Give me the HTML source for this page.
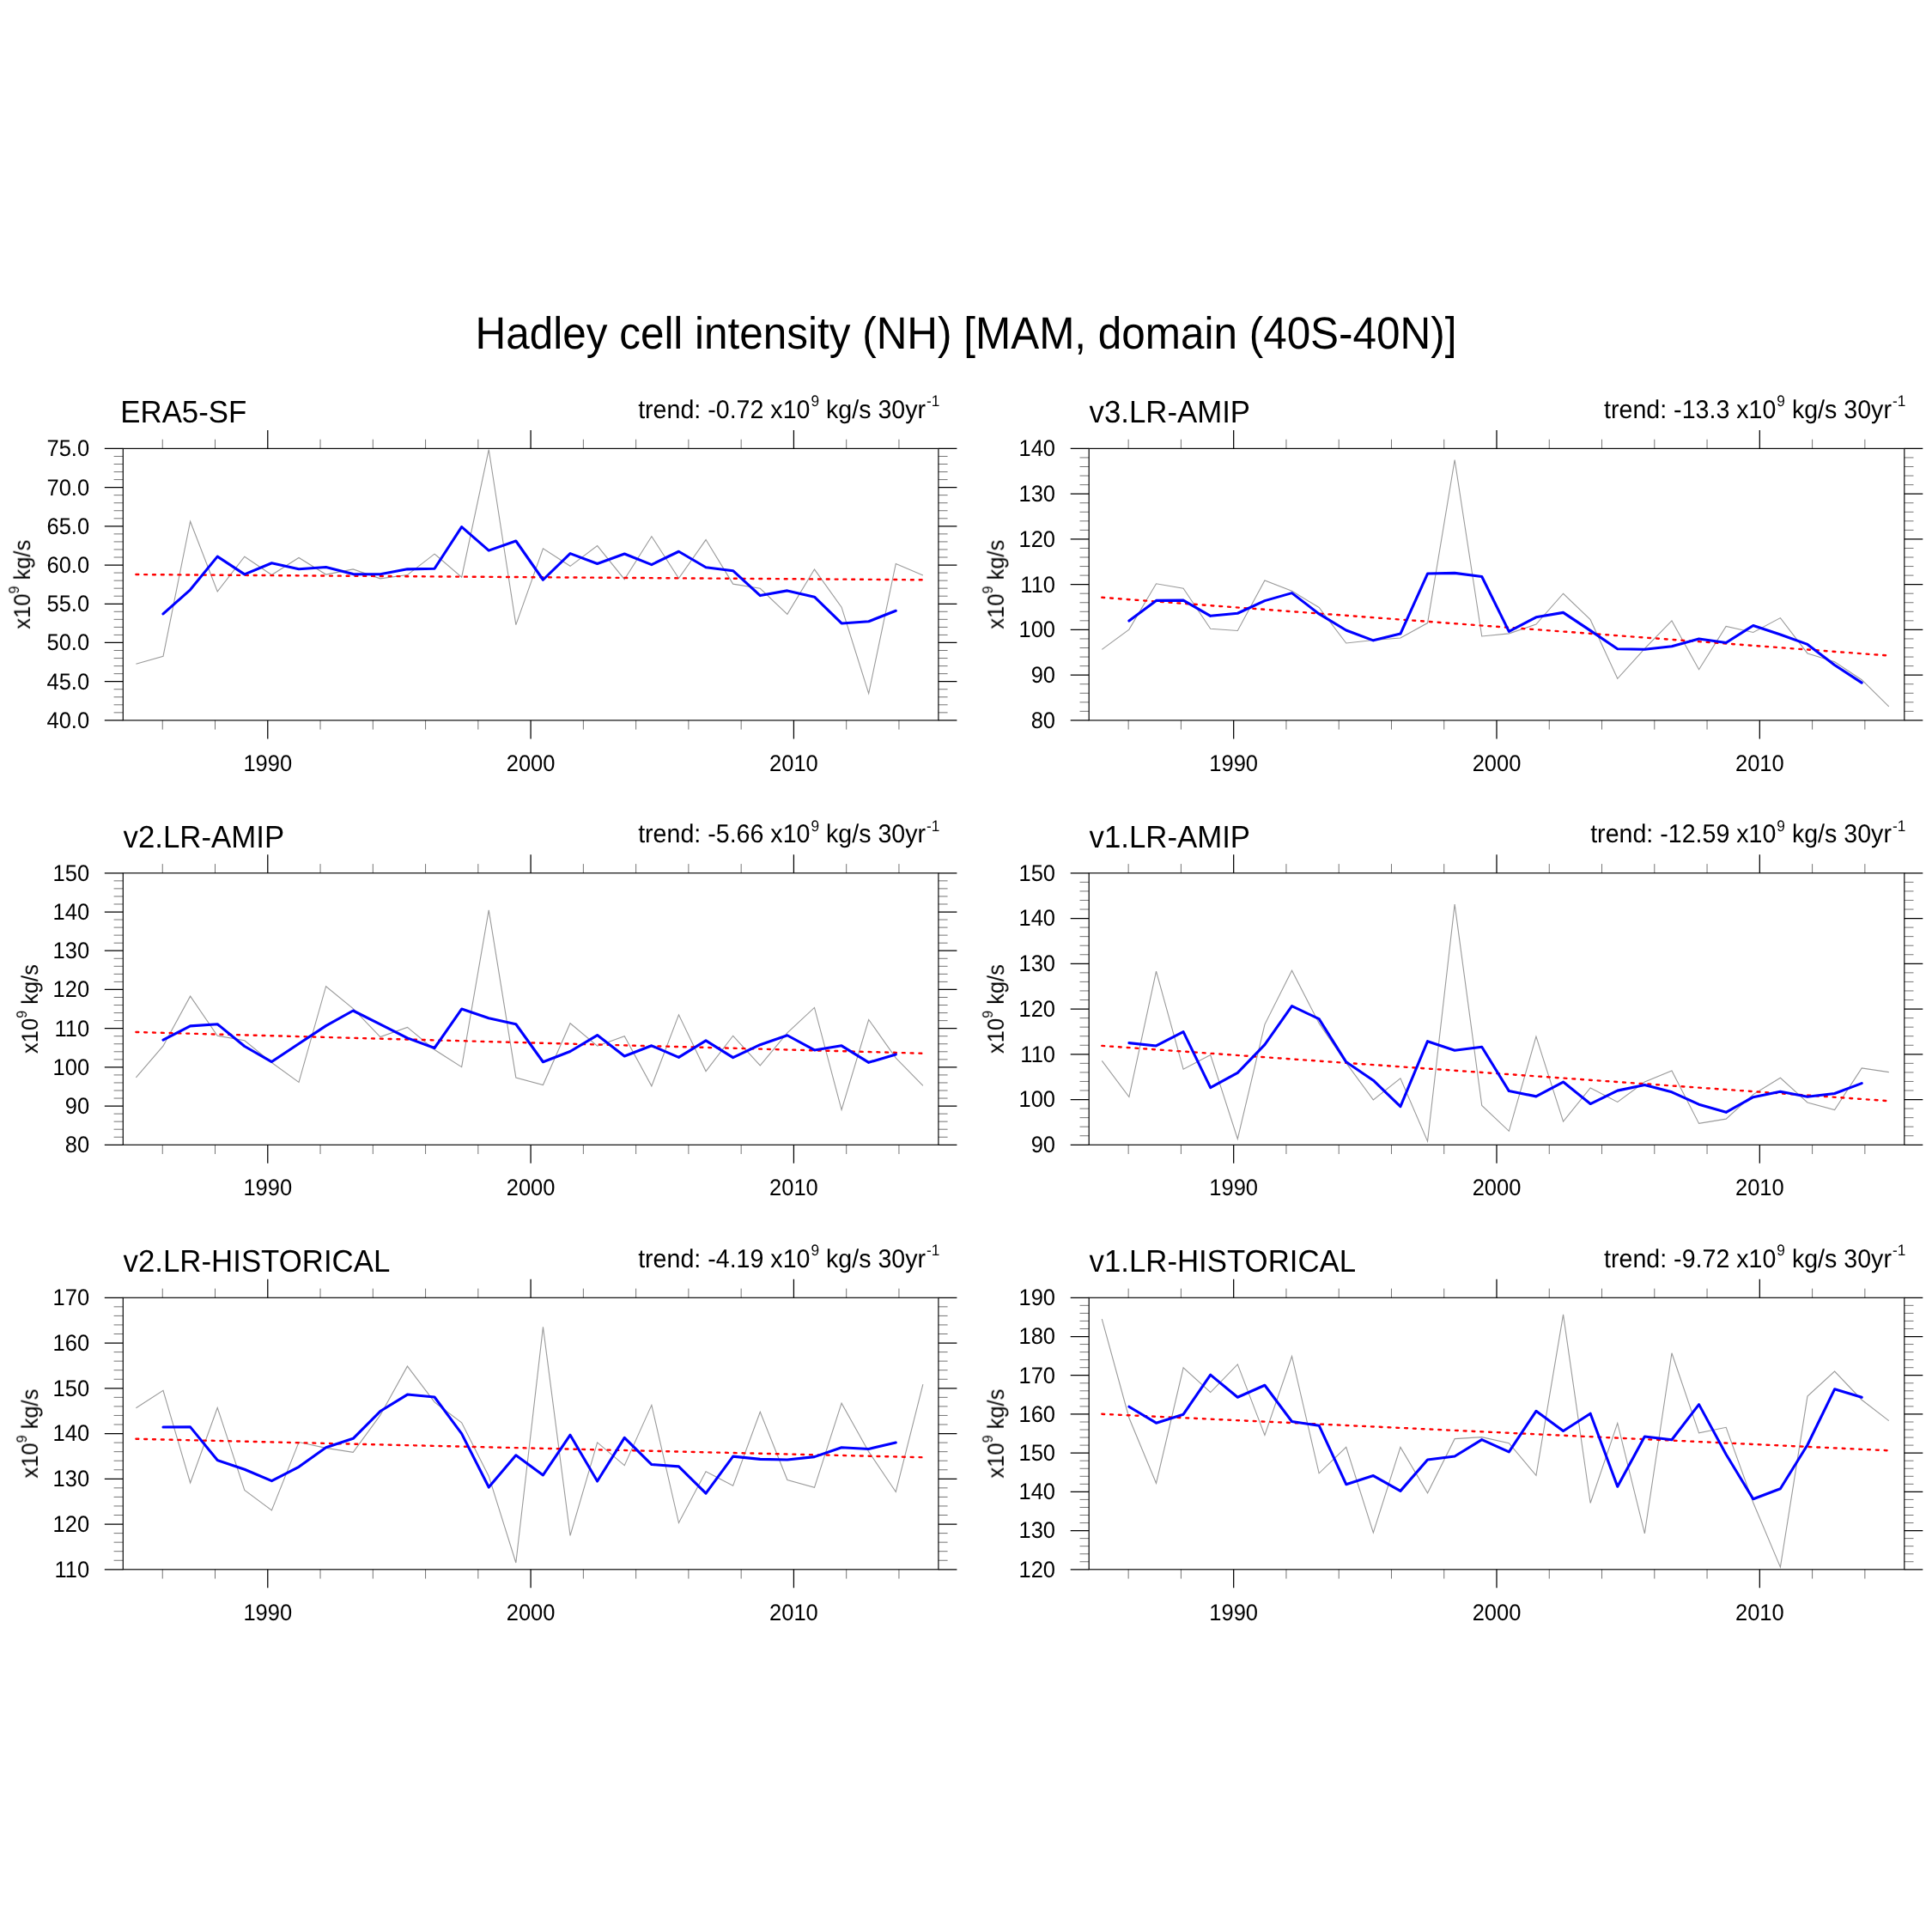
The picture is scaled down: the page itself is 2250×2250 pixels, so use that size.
<!DOCTYPE html><html><head><meta charset="utf-8"><title>Hadley cell intensity (NH)</title><style>html,body{margin:0;padding:0;background:#fff}svg{display:block}</style></head><body>
<svg width="2250" height="2250" viewBox="0 0 2250 2250" font-family="'Liberation Sans', Arial, Helvetica, sans-serif">
<rect width="2250" height="2250" fill="#fff"/>
<path d="M311.78 838.9V860.4M311.78 522.4V500.9M618.1 838.9V860.4M618.1 522.4V500.9M924.42 838.9V860.4M924.42 522.4V500.9M143.3 838.9H121.8M1092.9 838.9H1114.4M143.3 793.69H121.8M1092.9 793.69H1114.4M143.3 748.47H121.8M1092.9 748.47H1114.4M143.3 703.26H121.8M1092.9 703.26H1114.4M143.3 658.04H121.8M1092.9 658.04H1114.4M143.3 612.83H121.8M1092.9 612.83H1114.4M143.3 567.61H121.8M1092.9 567.61H1114.4M143.3 522.4H121.8M1092.9 522.4H1114.4" stroke="#000" stroke-width="1.25" fill="none"/>
<path d="M189.25 838.9V849.6M189.25 522.4V511.7M250.51 838.9V849.6M250.51 522.4V511.7M373.04 838.9V849.6M373.04 522.4V511.7M434.31 838.9V849.6M434.31 522.4V511.7M495.57 838.9V849.6M495.57 522.4V511.7M556.84 838.9V849.6M556.84 522.4V511.7M679.36 838.9V849.6M679.36 522.4V511.7M740.63 838.9V849.6M740.63 522.4V511.7M801.89 838.9V849.6M801.89 522.4V511.7M863.16 838.9V849.6M863.16 522.4V511.7M985.69 838.9V849.6M985.69 522.4V511.7M1046.95 838.9V849.6M1046.95 522.4V511.7M143.3 829.86H132.6M1092.9 829.86H1103.6M143.3 820.81H132.6M1092.9 820.81H1103.6M143.3 811.77H132.6M1092.9 811.77H1103.6M143.3 802.73H132.6M1092.9 802.73H1103.6M143.3 784.64H132.6M1092.9 784.64H1103.6M143.3 775.6H132.6M1092.9 775.6H1103.6M143.3 766.56H132.6M1092.9 766.56H1103.6M143.3 757.51H132.6M1092.9 757.51H1103.6M143.3 739.43H132.6M1092.9 739.43H1103.6M143.3 730.39H132.6M1092.9 730.39H1103.6M143.3 721.34H132.6M1092.9 721.34H1103.6M143.3 712.3H132.6M1092.9 712.3H1103.6M143.3 694.21H132.6M1092.9 694.21H1103.6M143.3 685.17H132.6M1092.9 685.17H1103.6M143.3 676.13H132.6M1092.9 676.13H1103.6M143.3 667.09H132.6M1092.9 667.09H1103.6M143.3 649H132.6M1092.9 649H1103.6M143.3 639.96H132.6M1092.9 639.96H1103.6M143.3 630.91H132.6M1092.9 630.91H1103.6M143.3 621.87H132.6M1092.9 621.87H1103.6M143.3 603.79H132.6M1092.9 603.79H1103.6M143.3 594.74H132.6M1092.9 594.74H1103.6M143.3 585.7H132.6M1092.9 585.7H1103.6M143.3 576.66H132.6M1092.9 576.66H1103.6M143.3 558.57H132.6M1092.9 558.57H1103.6M143.3 549.53H132.6M1092.9 549.53H1103.6M143.3 540.49H132.6M1092.9 540.49H1103.6M143.3 531.44H132.6M1092.9 531.44H1103.6" stroke="#000" stroke-width="0.55" fill="none"/>
<polyline points="158.4,773.24 190,764.36 221.61,607.23 253.21,688.87 284.81,648.22 316.42,669.57 348.02,649.42 379.62,669.06 411.22,662.91 442.83,673.84 474.43,669.57 506.03,645.15 537.64,672.13 569.24,523.54 600.84,727.64 632.45,638.83 664.05,659.32 695.65,635.58 727.25,674.69 758.86,624.65 790.46,673.5 822.06,628.58 853.67,680.16 885.27,685.28 916.87,715.34 948.48,663.08 980.08,707.14 1011.68,807.57 1043.28,656.42 1074.89,669.91" stroke="#9a9a9a" stroke-width="1.1" fill="none" stroke-linejoin="miter"/>
<line x1="158.4" y1="669.05" x2="1074.89" y2="675.27" stroke="#f00" stroke-width="2.4" stroke-dasharray="2.9 6.91" stroke-linecap="round" fill="none"/>
<polyline points="190,714.94 221.61,686.82 253.21,648.11 284.81,668.89 316.42,655.73 348.02,662.68 379.62,660.46 411.22,668.6 442.83,668.77 474.43,662.85 506.03,662.28 537.64,613.61 569.24,641.1 600.84,630 632.45,675.26 664.05,644.58 695.65,656.53 727.25,644.97 758.86,657.61 790.46,642.24 822.06,660.74 853.67,664.67 885.27,693.59 916.87,687.9 948.48,695.19 980.08,725.93 1011.68,723.71 1043.28,711.3" stroke="#00f" stroke-width="3.1" fill="none" stroke-linejoin="round" stroke-linecap="round"/>
<rect x="143.3" y="522.4" width="949.6" height="316.5" stroke="#000" stroke-width="1.15" fill="none"/>
<path d="M1436.68 838.9V860.4M1436.68 522.4V500.9M1743 838.9V860.4M1743 522.4V500.9M2049.32 838.9V860.4M2049.32 522.4V500.9M1268.2 838.9H1246.7M2217.8 838.9H2239.3M1268.2 786.15H1246.7M2217.8 786.15H2239.3M1268.2 733.4H1246.7M2217.8 733.4H2239.3M1268.2 680.65H1246.7M2217.8 680.65H2239.3M1268.2 627.9H1246.7M2217.8 627.9H2239.3M1268.2 575.15H1246.7M2217.8 575.15H2239.3M1268.2 522.4H1246.7M2217.8 522.4H2239.3" stroke="#000" stroke-width="1.25" fill="none"/>
<path d="M1314.15 838.9V849.6M1314.15 522.4V511.7M1375.41 838.9V849.6M1375.41 522.4V511.7M1497.94 838.9V849.6M1497.94 522.4V511.7M1559.21 838.9V849.6M1559.21 522.4V511.7M1620.47 838.9V849.6M1620.47 522.4V511.7M1681.74 838.9V849.6M1681.74 522.4V511.7M1804.26 838.9V849.6M1804.26 522.4V511.7M1865.53 838.9V849.6M1865.53 522.4V511.7M1926.79 838.9V849.6M1926.79 522.4V511.7M1988.06 838.9V849.6M1988.06 522.4V511.7M2110.59 838.9V849.6M2110.59 522.4V511.7M2171.85 838.9V849.6M2171.85 522.4V511.7M1268.2 828.35H1257.5M2217.8 828.35H2228.5M1268.2 817.8H1257.5M2217.8 817.8H2228.5M1268.2 807.25H1257.5M2217.8 807.25H2228.5M1268.2 796.7H1257.5M2217.8 796.7H2228.5M1268.2 775.6H1257.5M2217.8 775.6H2228.5M1268.2 765.05H1257.5M2217.8 765.05H2228.5M1268.2 754.5H1257.5M2217.8 754.5H2228.5M1268.2 743.95H1257.5M2217.8 743.95H2228.5M1268.2 722.85H1257.5M2217.8 722.85H2228.5M1268.2 712.3H1257.5M2217.8 712.3H2228.5M1268.2 701.75H1257.5M2217.8 701.75H2228.5M1268.2 691.2H1257.5M2217.8 691.2H2228.5M1268.2 670.1H1257.5M2217.8 670.1H2228.5M1268.2 659.55H1257.5M2217.8 659.55H2228.5M1268.2 649H1257.5M2217.8 649H2228.5M1268.2 638.45H1257.5M2217.8 638.45H2228.5M1268.2 617.35H1257.5M2217.8 617.35H2228.5M1268.2 606.8H1257.5M2217.8 606.8H2228.5M1268.2 596.25H1257.5M2217.8 596.25H2228.5M1268.2 585.7H1257.5M2217.8 585.7H2228.5M1268.2 564.6H1257.5M2217.8 564.6H2228.5M1268.2 554.05H1257.5M2217.8 554.05H2228.5M1268.2 543.5H1257.5M2217.8 543.5H2228.5M1268.2 532.95H1257.5M2217.8 532.95H2228.5" stroke="#000" stroke-width="0.55" fill="none"/>
<polyline points="1283.3,756.33 1314.9,733.1 1346.51,679.82 1378.11,685.28 1409.71,732.25 1441.32,734.47 1472.92,676.06 1504.52,688.36 1536.12,707.49 1567.73,748.99 1599.33,745.57 1630.93,743.01 1662.54,725.59 1694.14,535.5 1725.74,740.96 1757.35,737.89 1788.95,727.13 1820.55,691.26 1852.15,721.66 1883.76,790.32 1915.36,755.48 1946.96,722.86 1978.57,779.73 2010.17,729.35 2041.77,736.52 2073.38,719.61 2104.98,760.94 2136.58,770.68 2168.18,791.69 2199.79,822.94" stroke="#9a9a9a" stroke-width="1.1" fill="none" stroke-linejoin="miter"/>
<line x1="1283.3" y1="695.82" x2="2199.79" y2="763.56" stroke="#f00" stroke-width="2.4" stroke-dasharray="2.9 6.91" stroke-linecap="round" fill="none"/>
<polyline points="1314.9,723.08 1346.51,699.4 1378.11,699.12 1409.71,717.33 1441.32,714.26 1472.92,699.63 1504.52,690.63 1536.12,714.94 1567.73,734.02 1599.33,745.86 1630.93,738.06 1662.54,668.03 1694.14,667.35 1725.74,671.45 1757.35,735.32 1788.95,718.76 1820.55,713.35 1852.15,734.41 1883.76,755.82 1915.36,756.22 1946.96,752.69 1978.57,743.98 2010.17,748.53 2041.77,728.49 2073.38,739.03 2104.98,750.41 2136.58,774.44 2168.18,795.1" stroke="#00f" stroke-width="3.1" fill="none" stroke-linejoin="round" stroke-linecap="round"/>
<rect x="1268.2" y="522.4" width="949.6" height="316.5" stroke="#000" stroke-width="1.15" fill="none"/>
<path d="M311.78 1333.3V1354.8M311.78 1016.8V995.3M618.1 1333.3V1354.8M618.1 1016.8V995.3M924.42 1333.3V1354.8M924.42 1016.8V995.3M143.3 1333.3H121.8M1092.9 1333.3H1114.4M143.3 1288.09H121.8M1092.9 1288.09H1114.4M143.3 1242.87H121.8M1092.9 1242.87H1114.4M143.3 1197.66H121.8M1092.9 1197.66H1114.4M143.3 1152.44H121.8M1092.9 1152.44H1114.4M143.3 1107.23H121.8M1092.9 1107.23H1114.4M143.3 1062.01H121.8M1092.9 1062.01H1114.4M143.3 1016.8H121.8M1092.9 1016.8H1114.4" stroke="#000" stroke-width="1.25" fill="none"/>
<path d="M189.25 1333.3V1344M189.25 1016.8V1006.1M250.51 1333.3V1344M250.51 1016.8V1006.1M373.04 1333.3V1344M373.04 1016.8V1006.1M434.31 1333.3V1344M434.31 1016.8V1006.1M495.57 1333.3V1344M495.57 1016.8V1006.1M556.84 1333.3V1344M556.84 1016.8V1006.1M679.36 1333.3V1344M679.36 1016.8V1006.1M740.63 1333.3V1344M740.63 1016.8V1006.1M801.89 1333.3V1344M801.89 1016.8V1006.1M863.16 1333.3V1344M863.16 1016.8V1006.1M985.69 1333.3V1344M985.69 1016.8V1006.1M1046.95 1333.3V1344M1046.95 1016.8V1006.1M143.3 1324.26H132.6M1092.9 1324.26H1103.6M143.3 1315.21H132.6M1092.9 1315.21H1103.6M143.3 1306.17H132.6M1092.9 1306.17H1103.6M143.3 1297.13H132.6M1092.9 1297.13H1103.6M143.3 1279.04H132.6M1092.9 1279.04H1103.6M143.3 1270H132.6M1092.9 1270H1103.6M143.3 1260.96H132.6M1092.9 1260.96H1103.6M143.3 1251.91H132.6M1092.9 1251.91H1103.6M143.3 1233.83H132.6M1092.9 1233.83H1103.6M143.3 1224.79H132.6M1092.9 1224.79H1103.6M143.3 1215.74H132.6M1092.9 1215.74H1103.6M143.3 1206.7H132.6M1092.9 1206.7H1103.6M143.3 1188.61H132.6M1092.9 1188.61H1103.6M143.3 1179.57H132.6M1092.9 1179.57H1103.6M143.3 1170.53H132.6M1092.9 1170.53H1103.6M143.3 1161.49H132.6M1092.9 1161.49H1103.6M143.3 1143.4H132.6M1092.9 1143.4H1103.6M143.3 1134.36H132.6M1092.9 1134.36H1103.6M143.3 1125.31H132.6M1092.9 1125.31H1103.6M143.3 1116.27H132.6M1092.9 1116.27H1103.6M143.3 1098.19H132.6M1092.9 1098.19H1103.6M143.3 1089.14H132.6M1092.9 1089.14H1103.6M143.3 1080.1H132.6M1092.9 1080.1H1103.6M143.3 1071.06H132.6M1092.9 1071.06H1103.6M143.3 1052.97H132.6M1092.9 1052.97H1103.6M143.3 1043.93H132.6M1092.9 1043.93H1103.6M143.3 1034.89H132.6M1092.9 1034.89H1103.6M143.3 1025.84H132.6M1092.9 1025.84H1103.6" stroke="#000" stroke-width="0.55" fill="none"/>
<polyline points="158.4,1254.94 190,1218.22 221.61,1160.15 253.21,1206.27 284.81,1211.73 316.42,1237.52 348.02,1260.41 379.62,1148.71 411.22,1174.67 442.83,1207.63 474.43,1196.36 506.03,1222.49 537.64,1242.65 569.24,1059.9 600.84,1254.94 632.45,1263.48 664.05,1191.75 695.65,1218.22 727.25,1206.78 758.86,1264.85 790.46,1181.84 822.06,1247.6 853.67,1206.27 885.27,1240.94 916.87,1202.85 948.48,1173.47 980.08,1292.52 1011.68,1187.48 1043.28,1232.06 1074.89,1264.34" stroke="#9a9a9a" stroke-width="1.1" fill="none" stroke-linejoin="miter"/>
<line x1="158.4" y1="1201.99" x2="1074.89" y2="1226.74" stroke="#f00" stroke-width="2.4" stroke-dasharray="2.9 6.91" stroke-linecap="round" fill="none"/>
<polyline points="190,1211.11 221.61,1194.88 253.21,1192.72 284.81,1218.51 316.42,1236.55 348.02,1215.55 379.62,1194.6 411.22,1177 442.83,1192.89 474.43,1208.83 506.03,1220.5 537.64,1175.01 569.24,1185.83 600.84,1192.77 632.45,1236.73 664.05,1224.49 695.65,1205.58 727.25,1229.95 758.86,1217.82 790.46,1231.43 822.06,1211.9 853.67,1231.6 885.27,1216.69 916.87,1205.75 948.48,1222.95 980.08,1217.82 1011.68,1237.35 1043.28,1227.96" stroke="#00f" stroke-width="3.1" fill="none" stroke-linejoin="round" stroke-linecap="round"/>
<rect x="143.3" y="1016.8" width="949.6" height="316.5" stroke="#000" stroke-width="1.15" fill="none"/>
<path d="M1436.68 1333.3V1354.8M1436.68 1016.8V995.3M1743 1333.3V1354.8M1743 1016.8V995.3M2049.32 1333.3V1354.8M2049.32 1016.8V995.3M1268.2 1333.3H1246.7M2217.8 1333.3H2239.3M1268.2 1280.55H1246.7M2217.8 1280.55H2239.3M1268.2 1227.8H1246.7M2217.8 1227.8H2239.3M1268.2 1175.05H1246.7M2217.8 1175.05H2239.3M1268.2 1122.3H1246.7M2217.8 1122.3H2239.3M1268.2 1069.55H1246.7M2217.8 1069.55H2239.3M1268.2 1016.8H1246.7M2217.8 1016.8H2239.3" stroke="#000" stroke-width="1.25" fill="none"/>
<path d="M1314.15 1333.3V1344M1314.15 1016.8V1006.1M1375.41 1333.3V1344M1375.41 1016.8V1006.1M1497.94 1333.3V1344M1497.94 1016.8V1006.1M1559.21 1333.3V1344M1559.21 1016.8V1006.1M1620.47 1333.3V1344M1620.47 1016.8V1006.1M1681.74 1333.3V1344M1681.74 1016.8V1006.1M1804.26 1333.3V1344M1804.26 1016.8V1006.1M1865.53 1333.3V1344M1865.53 1016.8V1006.1M1926.79 1333.3V1344M1926.79 1016.8V1006.1M1988.06 1333.3V1344M1988.06 1016.8V1006.1M2110.59 1333.3V1344M2110.59 1016.8V1006.1M2171.85 1333.3V1344M2171.85 1016.8V1006.1M1268.2 1322.75H1257.5M2217.8 1322.75H2228.5M1268.2 1312.2H1257.5M2217.8 1312.2H2228.5M1268.2 1301.65H1257.5M2217.8 1301.65H2228.5M1268.2 1291.1H1257.5M2217.8 1291.1H2228.5M1268.2 1270H1257.5M2217.8 1270H2228.5M1268.2 1259.45H1257.5M2217.8 1259.45H2228.5M1268.2 1248.9H1257.5M2217.8 1248.9H2228.5M1268.2 1238.35H1257.5M2217.8 1238.35H2228.5M1268.2 1217.25H1257.5M2217.8 1217.25H2228.5M1268.2 1206.7H1257.5M2217.8 1206.7H2228.5M1268.2 1196.15H1257.5M2217.8 1196.15H2228.5M1268.2 1185.6H1257.5M2217.8 1185.6H2228.5M1268.2 1164.5H1257.5M2217.8 1164.5H2228.5M1268.2 1153.95H1257.5M2217.8 1153.95H2228.5M1268.2 1143.4H1257.5M2217.8 1143.4H2228.5M1268.2 1132.85H1257.5M2217.8 1132.85H2228.5M1268.2 1111.75H1257.5M2217.8 1111.75H2228.5M1268.2 1101.2H1257.5M2217.8 1101.2H2228.5M1268.2 1090.65H1257.5M2217.8 1090.65H2228.5M1268.2 1080.1H1257.5M2217.8 1080.1H2228.5M1268.2 1059H1257.5M2217.8 1059H2228.5M1268.2 1048.45H1257.5M2217.8 1048.45H2228.5M1268.2 1037.9H1257.5M2217.8 1037.9H2228.5M1268.2 1027.35H1257.5M2217.8 1027.35H2228.5" stroke="#000" stroke-width="0.55" fill="none"/>
<polyline points="1283.3,1235.3 1314.9,1277.49 1346.51,1131.12 1378.11,1245.21 1409.71,1228.47 1441.32,1326.34 1472.92,1193.12 1504.52,1130.26 1536.12,1191.75 1567.73,1237.86 1599.33,1280.9 1630.93,1255.8 1662.54,1329.24 1694.14,1053.06 1725.74,1287.39 1757.35,1317.28 1788.95,1207.12 1820.55,1306.18 1852.15,1266.9 1883.76,1283.47 1915.36,1260.07 1946.96,1246.92 1978.57,1308.4 2010.17,1303.11 2041.77,1274.58 2073.38,1255.29 2104.98,1283.98 2136.58,1292.52 2168.18,1243.84 2199.79,1248.62" stroke="#9a9a9a" stroke-width="1.1" fill="none" stroke-linejoin="miter"/>
<line x1="1283.3" y1="1217.91" x2="2199.79" y2="1282.2" stroke="#f00" stroke-width="2.4" stroke-dasharray="2.9 6.91" stroke-linecap="round" fill="none"/>
<polyline points="1314.9,1214.64 1346.51,1217.94 1378.11,1201.6 1409.71,1266.67 1441.32,1249.31 1472.92,1216.57 1504.52,1171.71 1536.12,1186.63 1567.73,1236.84 1599.33,1258.19 1630.93,1288.65 1662.54,1212.7 1694.14,1223.23 1725.74,1219.25 1757.35,1270.6 1788.95,1276.86 1820.55,1260.07 1852.15,1285.52 1883.76,1270.14 1915.36,1263.48 1946.96,1271.8 1978.57,1286.14 2010.17,1295.36 2041.77,1277.66 2073.38,1271.28 2104.98,1277.26 2136.58,1273.45 2168.18,1261.66" stroke="#00f" stroke-width="3.1" fill="none" stroke-linejoin="round" stroke-linecap="round"/>
<rect x="1268.2" y="1016.8" width="949.6" height="316.5" stroke="#000" stroke-width="1.15" fill="none"/>
<path d="M311.78 1827.8V1849.3M311.78 1511.3V1489.8M618.1 1827.8V1849.3M618.1 1511.3V1489.8M924.42 1827.8V1849.3M924.42 1511.3V1489.8M143.3 1827.8H121.8M1092.9 1827.8H1114.4M143.3 1775.05H121.8M1092.9 1775.05H1114.4M143.3 1722.3H121.8M1092.9 1722.3H1114.4M143.3 1669.55H121.8M1092.9 1669.55H1114.4M143.3 1616.8H121.8M1092.9 1616.8H1114.4M143.3 1564.05H121.8M1092.9 1564.05H1114.4M143.3 1511.3H121.8M1092.9 1511.3H1114.4" stroke="#000" stroke-width="1.25" fill="none"/>
<path d="M189.25 1827.8V1838.5M189.25 1511.3V1500.6M250.51 1827.8V1838.5M250.51 1511.3V1500.6M373.04 1827.8V1838.5M373.04 1511.3V1500.6M434.31 1827.8V1838.5M434.31 1511.3V1500.6M495.57 1827.8V1838.5M495.57 1511.3V1500.6M556.84 1827.8V1838.5M556.84 1511.3V1500.6M679.36 1827.8V1838.5M679.36 1511.3V1500.6M740.63 1827.8V1838.5M740.63 1511.3V1500.6M801.89 1827.8V1838.5M801.89 1511.3V1500.6M863.16 1827.8V1838.5M863.16 1511.3V1500.6M985.69 1827.8V1838.5M985.69 1511.3V1500.6M1046.95 1827.8V1838.5M1046.95 1511.3V1500.6M143.3 1817.25H132.6M1092.9 1817.25H1103.6M143.3 1806.7H132.6M1092.9 1806.7H1103.6M143.3 1796.15H132.6M1092.9 1796.15H1103.6M143.3 1785.6H132.6M1092.9 1785.6H1103.6M143.3 1764.5H132.6M1092.9 1764.5H1103.6M143.3 1753.95H132.6M1092.9 1753.95H1103.6M143.3 1743.4H132.6M1092.9 1743.4H1103.6M143.3 1732.85H132.6M1092.9 1732.85H1103.6M143.3 1711.75H132.6M1092.9 1711.75H1103.6M143.3 1701.2H132.6M1092.9 1701.2H1103.6M143.3 1690.65H132.6M1092.9 1690.65H1103.6M143.3 1680.1H132.6M1092.9 1680.1H1103.6M143.3 1659H132.6M1092.9 1659H1103.6M143.3 1648.45H132.6M1092.9 1648.45H1103.6M143.3 1637.9H132.6M1092.9 1637.9H1103.6M143.3 1627.35H132.6M1092.9 1627.35H1103.6M143.3 1606.25H132.6M1092.9 1606.25H1103.6M143.3 1595.7H132.6M1092.9 1595.7H1103.6M143.3 1585.15H132.6M1092.9 1585.15H1103.6M143.3 1574.6H132.6M1092.9 1574.6H1103.6M143.3 1553.5H132.6M1092.9 1553.5H1103.6M143.3 1542.95H132.6M1092.9 1542.95H1103.6M143.3 1532.4H132.6M1092.9 1532.4H1103.6M143.3 1521.85H132.6M1092.9 1521.85H1103.6" stroke="#000" stroke-width="0.55" fill="none"/>
<polyline points="158.4,1639.78 190,1619.29 221.61,1726.89 253.21,1639.44 284.81,1735.43 316.42,1759 348.02,1679.58 379.62,1686.41 411.22,1691.36 442.83,1648.15 474.43,1591.11 506.03,1632.95 537.64,1656.86 569.24,1719.2 600.84,1819.97 632.45,1545.33 664.05,1788.37 695.65,1679.92 727.25,1706.73 758.86,1636.37 790.46,1773.51 822.06,1713.74 853.67,1730.3 885.27,1644.39 916.87,1723.47 948.48,1732.35 980.08,1634.15 1011.68,1690.68 1043.28,1737.48 1074.89,1612.11" stroke="#9a9a9a" stroke-width="1.1" fill="none" stroke-linejoin="miter"/>
<line x1="158.4" y1="1675.75" x2="1074.89" y2="1697.2" stroke="#f00" stroke-width="2.4" stroke-dasharray="2.9 6.91" stroke-linecap="round" fill="none"/>
<polyline points="190,1661.98 221.61,1661.87 253.21,1700.58 284.81,1711.29 316.42,1724.67 348.02,1708.33 379.62,1685.78 411.22,1675.31 442.83,1643.54 474.43,1624.07 506.03,1626.97 537.64,1669.67 569.24,1732.01 600.84,1694.83 632.45,1717.89 664.05,1671.21 695.65,1725.01 727.25,1674.34 758.86,1705.54 790.46,1707.87 822.06,1739.18 853.67,1696.14 885.27,1699.39 916.87,1700.07 948.48,1696.66 980.08,1685.73 1011.68,1687.43 1043.28,1680.09" stroke="#00f" stroke-width="3.1" fill="none" stroke-linejoin="round" stroke-linecap="round"/>
<rect x="143.3" y="1511.3" width="949.6" height="316.5" stroke="#000" stroke-width="1.15" fill="none"/>
<path d="M1436.68 1827.8V1849.3M1436.68 1511.3V1489.8M1743 1827.8V1849.3M1743 1511.3V1489.8M2049.32 1827.8V1849.3M2049.32 1511.3V1489.8M1268.2 1827.8H1246.7M2217.8 1827.8H2239.3M1268.2 1782.59H1246.7M2217.8 1782.59H2239.3M1268.2 1737.37H1246.7M2217.8 1737.37H2239.3M1268.2 1692.16H1246.7M2217.8 1692.16H2239.3M1268.2 1646.94H1246.7M2217.8 1646.94H2239.3M1268.2 1601.73H1246.7M2217.8 1601.73H2239.3M1268.2 1556.51H1246.7M2217.8 1556.51H2239.3M1268.2 1511.3H1246.7M2217.8 1511.3H2239.3" stroke="#000" stroke-width="1.25" fill="none"/>
<path d="M1314.15 1827.8V1838.5M1314.15 1511.3V1500.6M1375.41 1827.8V1838.5M1375.41 1511.3V1500.6M1497.94 1827.8V1838.5M1497.94 1511.3V1500.6M1559.21 1827.8V1838.5M1559.21 1511.3V1500.6M1620.47 1827.8V1838.5M1620.47 1511.3V1500.6M1681.74 1827.8V1838.5M1681.74 1511.3V1500.6M1804.26 1827.8V1838.5M1804.26 1511.3V1500.6M1865.53 1827.8V1838.5M1865.53 1511.3V1500.6M1926.79 1827.8V1838.5M1926.79 1511.3V1500.6M1988.06 1827.8V1838.5M1988.06 1511.3V1500.6M2110.59 1827.8V1838.5M2110.59 1511.3V1500.6M2171.85 1827.8V1838.5M2171.85 1511.3V1500.6M1268.2 1818.76H1257.5M2217.8 1818.76H2228.5M1268.2 1809.71H1257.5M2217.8 1809.71H2228.5M1268.2 1800.67H1257.5M2217.8 1800.67H2228.5M1268.2 1791.63H1257.5M2217.8 1791.63H2228.5M1268.2 1773.54H1257.5M2217.8 1773.54H2228.5M1268.2 1764.5H1257.5M2217.8 1764.5H2228.5M1268.2 1755.46H1257.5M2217.8 1755.46H2228.5M1268.2 1746.41H1257.5M2217.8 1746.41H2228.5M1268.2 1728.33H1257.5M2217.8 1728.33H2228.5M1268.2 1719.29H1257.5M2217.8 1719.29H2228.5M1268.2 1710.24H1257.5M2217.8 1710.24H2228.5M1268.2 1701.2H1257.5M2217.8 1701.2H2228.5M1268.2 1683.11H1257.5M2217.8 1683.11H2228.5M1268.2 1674.07H1257.5M2217.8 1674.07H2228.5M1268.2 1665.03H1257.5M2217.8 1665.03H2228.5M1268.2 1655.99H1257.5M2217.8 1655.99H2228.5M1268.2 1637.9H1257.5M2217.8 1637.9H2228.5M1268.2 1628.86H1257.5M2217.8 1628.86H2228.5M1268.2 1619.81H1257.5M2217.8 1619.81H2228.5M1268.2 1610.77H1257.5M2217.8 1610.77H2228.5M1268.2 1592.69H1257.5M2217.8 1592.69H2228.5M1268.2 1583.64H1257.5M2217.8 1583.64H2228.5M1268.2 1574.6H1257.5M2217.8 1574.6H2228.5M1268.2 1565.56H1257.5M2217.8 1565.56H2228.5M1268.2 1547.47H1257.5M2217.8 1547.47H2228.5M1268.2 1538.43H1257.5M2217.8 1538.43H2228.5M1268.2 1529.39H1257.5M2217.8 1529.39H2228.5M1268.2 1520.34H1257.5M2217.8 1520.34H2228.5" stroke="#000" stroke-width="0.55" fill="none"/>
<polyline points="1283.3,1536.11 1314.9,1651.22 1346.51,1727.4 1378.11,1592.81 1409.71,1621.51 1441.32,1588.88 1472.92,1671.38 1504.52,1579.49 1536.12,1715.78 1567.73,1685.38 1599.33,1784.96 1630.93,1685.38 1662.54,1738.84 1694.14,1675.65 1725.74,1673.6 1757.35,1680.77 1788.95,1718.35 1820.55,1530.81 1852.15,1750.46 1883.76,1657.37 1915.36,1785.81 1946.96,1575.73 1978.57,1668.82 2010.17,1662.33 2041.77,1749.94 2073.38,1825.09 2104.98,1626.12 2136.58,1597.08 2168.18,1630.22 2199.79,1654.64" stroke="#9a9a9a" stroke-width="1.1" fill="none" stroke-linejoin="miter"/>
<line x1="1283.3" y1="1646.82" x2="2199.79" y2="1689.31" stroke="#f00" stroke-width="2.4" stroke-dasharray="2.9 6.91" stroke-linecap="round" fill="none"/>
<polyline points="1314.9,1638.24 1346.51,1657.15 1378.11,1647.24 1409.71,1601.07 1441.32,1627.26 1472.92,1613.25 1504.52,1655.55 1536.12,1660.22 1567.73,1728.71 1599.33,1718.57 1630.93,1736.39 1662.54,1699.96 1694.14,1696.03 1725.74,1676.67 1757.35,1690.91 1788.95,1643.31 1820.55,1666.54 1852.15,1646.21 1883.76,1731.21 1915.36,1672.97 1946.96,1676.79 1978.57,1635.63 2010.17,1693.7 2041.77,1745.79 2073.38,1733.72 2104.98,1682.76 2136.58,1617.81 2168.18,1627.31" stroke="#00f" stroke-width="3.1" fill="none" stroke-linejoin="round" stroke-linecap="round"/>
<rect x="1268.2" y="1511.3" width="949.6" height="316.5" stroke="#000" stroke-width="1.15" fill="none"/>
<g opacity="0.999" text-rendering="geometricPrecision"><text transform="translate(1125 405.65) scale(1 1.063)" font-size="49.45" text-anchor="middle">Hadley cell intensity (NH) [MAM, domain (40S-40N)]</text><text transform="translate(104.1 847.8) scale(1 1.05)" font-size="25.5" text-anchor="end">40.0</text><text transform="translate(104.1 802.59) scale(1 1.05)" font-size="25.5" text-anchor="end">45.0</text><text transform="translate(104.1 757.37) scale(1 1.05)" font-size="25.5" text-anchor="end">50.0</text><text transform="translate(104.1 712.16) scale(1 1.05)" font-size="25.5" text-anchor="end">55.0</text><text transform="translate(104.1 666.94) scale(1 1.05)" font-size="25.5" text-anchor="end">60.0</text><text transform="translate(104.1 621.73) scale(1 1.05)" font-size="25.5" text-anchor="end">65.0</text><text transform="translate(104.1 576.51) scale(1 1.05)" font-size="25.5" text-anchor="end">70.0</text><text transform="translate(104.1 531.3) scale(1 1.05)" font-size="25.5" text-anchor="end">75.0</text><text transform="translate(311.78 897.7) scale(1 1.05)" font-size="25.5" text-anchor="middle">1990</text><text transform="translate(618.1 897.7) scale(1 1.05)" font-size="25.5" text-anchor="middle">2000</text><text transform="translate(924.42 897.7) scale(1 1.05)" font-size="25.5" text-anchor="middle">2010</text><text transform="translate(140.3 492.3) scale(1 1.041)" font-size="34.8" text-anchor="start">ERA5-SF</text><text transform="translate(1094.4 487.1) scale(1 1.05)" font-size="28.6" text-anchor="end">trend: -0.72 x10<tspan font-size="17.3" dx="1" dy="-13.3">9</tspan><tspan dy="13.3"> kg/s 30yr</tspan><tspan font-size="17.3" dx="1" dy="-13.3">-1</tspan></text><text transform="translate(35.2 680.65) rotate(-90) scale(1 1.05)" font-size="25.5" text-anchor="middle">x10<tspan font-size="16" dy="-12.8">9</tspan><tspan dy="12.8"> kg/s</tspan></text><text transform="translate(1229 847.8) scale(1 1.05)" font-size="25.5" text-anchor="end">80</text><text transform="translate(1229 795.05) scale(1 1.05)" font-size="25.5" text-anchor="end">90</text><text transform="translate(1229 742.3) scale(1 1.05)" font-size="25.5" text-anchor="end">100</text><text transform="translate(1229 689.55) scale(1 1.05)" font-size="25.5" text-anchor="end">110</text><text transform="translate(1229 636.8) scale(1 1.05)" font-size="25.5" text-anchor="end">120</text><text transform="translate(1229 584.05) scale(1 1.05)" font-size="25.5" text-anchor="end">130</text><text transform="translate(1229 531.3) scale(1 1.05)" font-size="25.5" text-anchor="end">140</text><text transform="translate(1436.68 897.7) scale(1 1.05)" font-size="25.5" text-anchor="middle">1990</text><text transform="translate(1743 897.7) scale(1 1.05)" font-size="25.5" text-anchor="middle">2000</text><text transform="translate(2049.32 897.7) scale(1 1.05)" font-size="25.5" text-anchor="middle">2010</text><text transform="translate(1268.5 492.3) scale(1 1.041)" font-size="34.8" text-anchor="start">v3.LR-AMIP</text><text transform="translate(2219.3 487.1) scale(1 1.05)" font-size="28.6" text-anchor="end">trend: -13.3 x10<tspan font-size="17.3" dx="1" dy="-13.3">9</tspan><tspan dy="13.3"> kg/s 30yr</tspan><tspan font-size="17.3" dx="1" dy="-13.3">-1</tspan></text><text transform="translate(1169.1 680.65) rotate(-90) scale(1 1.05)" font-size="25.5" text-anchor="middle">x10<tspan font-size="16" dy="-12.8">9</tspan><tspan dy="12.8"> kg/s</tspan></text><text transform="translate(104.1 1342.2) scale(1 1.05)" font-size="25.5" text-anchor="end">80</text><text transform="translate(104.1 1296.99) scale(1 1.05)" font-size="25.5" text-anchor="end">90</text><text transform="translate(104.1 1251.77) scale(1 1.05)" font-size="25.5" text-anchor="end">100</text><text transform="translate(104.1 1206.56) scale(1 1.05)" font-size="25.5" text-anchor="end">110</text><text transform="translate(104.1 1161.34) scale(1 1.05)" font-size="25.5" text-anchor="end">120</text><text transform="translate(104.1 1116.13) scale(1 1.05)" font-size="25.5" text-anchor="end">130</text><text transform="translate(104.1 1070.91) scale(1 1.05)" font-size="25.5" text-anchor="end">140</text><text transform="translate(104.1 1025.7) scale(1 1.05)" font-size="25.5" text-anchor="end">150</text><text transform="translate(311.78 1392.1) scale(1 1.05)" font-size="25.5" text-anchor="middle">1990</text><text transform="translate(618.1 1392.1) scale(1 1.05)" font-size="25.5" text-anchor="middle">2000</text><text transform="translate(924.42 1392.1) scale(1 1.05)" font-size="25.5" text-anchor="middle">2010</text><text transform="translate(143.6 986.7) scale(1 1.041)" font-size="34.8" text-anchor="start">v2.LR-AMIP</text><text transform="translate(1094.4 981.5) scale(1 1.05)" font-size="28.6" text-anchor="end">trend: -5.66 x10<tspan font-size="17.3" dx="1" dy="-13.3">9</tspan><tspan dy="13.3"> kg/s 30yr</tspan><tspan font-size="17.3" dx="1" dy="-13.3">-1</tspan></text><text transform="translate(44.2 1175.05) rotate(-90) scale(1 1.05)" font-size="25.5" text-anchor="middle">x10<tspan font-size="16" dy="-12.8">9</tspan><tspan dy="12.8"> kg/s</tspan></text><text transform="translate(1229 1342.2) scale(1 1.05)" font-size="25.5" text-anchor="end">90</text><text transform="translate(1229 1289.45) scale(1 1.05)" font-size="25.5" text-anchor="end">100</text><text transform="translate(1229 1236.7) scale(1 1.05)" font-size="25.5" text-anchor="end">110</text><text transform="translate(1229 1183.95) scale(1 1.05)" font-size="25.5" text-anchor="end">120</text><text transform="translate(1229 1131.2) scale(1 1.05)" font-size="25.5" text-anchor="end">130</text><text transform="translate(1229 1078.45) scale(1 1.05)" font-size="25.5" text-anchor="end">140</text><text transform="translate(1229 1025.7) scale(1 1.05)" font-size="25.5" text-anchor="end">150</text><text transform="translate(1436.68 1392.1) scale(1 1.05)" font-size="25.5" text-anchor="middle">1990</text><text transform="translate(1743 1392.1) scale(1 1.05)" font-size="25.5" text-anchor="middle">2000</text><text transform="translate(2049.32 1392.1) scale(1 1.05)" font-size="25.5" text-anchor="middle">2010</text><text transform="translate(1268.5 986.7) scale(1 1.041)" font-size="34.8" text-anchor="start">v1.LR-AMIP</text><text transform="translate(2219.3 981.5) scale(1 1.05)" font-size="28.6" text-anchor="end">trend: -12.59 x10<tspan font-size="17.3" dx="1" dy="-13.3">9</tspan><tspan dy="13.3"> kg/s 30yr</tspan><tspan font-size="17.3" dx="1" dy="-13.3">-1</tspan></text><text transform="translate(1169.1 1175.05) rotate(-90) scale(1 1.05)" font-size="25.5" text-anchor="middle">x10<tspan font-size="16" dy="-12.8">9</tspan><tspan dy="12.8"> kg/s</tspan></text><text transform="translate(104.1 1836.7) scale(1 1.05)" font-size="25.5" text-anchor="end">110</text><text transform="translate(104.1 1783.95) scale(1 1.05)" font-size="25.5" text-anchor="end">120</text><text transform="translate(104.1 1731.2) scale(1 1.05)" font-size="25.5" text-anchor="end">130</text><text transform="translate(104.1 1678.45) scale(1 1.05)" font-size="25.5" text-anchor="end">140</text><text transform="translate(104.1 1625.7) scale(1 1.05)" font-size="25.5" text-anchor="end">150</text><text transform="translate(104.1 1572.95) scale(1 1.05)" font-size="25.5" text-anchor="end">160</text><text transform="translate(104.1 1520.2) scale(1 1.05)" font-size="25.5" text-anchor="end">170</text><text transform="translate(311.78 1886.6) scale(1 1.05)" font-size="25.5" text-anchor="middle">1990</text><text transform="translate(618.1 1886.6) scale(1 1.05)" font-size="25.5" text-anchor="middle">2000</text><text transform="translate(924.42 1886.6) scale(1 1.05)" font-size="25.5" text-anchor="middle">2010</text><text transform="translate(143.6 1481.2) scale(1 1.041)" font-size="34.8" text-anchor="start">v2.LR-HISTORICAL</text><text transform="translate(1094.4 1476) scale(1 1.05)" font-size="28.6" text-anchor="end">trend: -4.19 x10<tspan font-size="17.3" dx="1" dy="-13.3">9</tspan><tspan dy="13.3"> kg/s 30yr</tspan><tspan font-size="17.3" dx="1" dy="-13.3">-1</tspan></text><text transform="translate(44.2 1669.55) rotate(-90) scale(1 1.05)" font-size="25.5" text-anchor="middle">x10<tspan font-size="16" dy="-12.8">9</tspan><tspan dy="12.8"> kg/s</tspan></text><text transform="translate(1229 1836.7) scale(1 1.05)" font-size="25.5" text-anchor="end">120</text><text transform="translate(1229 1791.49) scale(1 1.05)" font-size="25.5" text-anchor="end">130</text><text transform="translate(1229 1746.27) scale(1 1.05)" font-size="25.5" text-anchor="end">140</text><text transform="translate(1229 1701.06) scale(1 1.05)" font-size="25.5" text-anchor="end">150</text><text transform="translate(1229 1655.84) scale(1 1.05)" font-size="25.5" text-anchor="end">160</text><text transform="translate(1229 1610.63) scale(1 1.05)" font-size="25.5" text-anchor="end">170</text><text transform="translate(1229 1565.41) scale(1 1.05)" font-size="25.5" text-anchor="end">180</text><text transform="translate(1229 1520.2) scale(1 1.05)" font-size="25.5" text-anchor="end">190</text><text transform="translate(1436.68 1886.6) scale(1 1.05)" font-size="25.5" text-anchor="middle">1990</text><text transform="translate(1743 1886.6) scale(1 1.05)" font-size="25.5" text-anchor="middle">2000</text><text transform="translate(2049.32 1886.6) scale(1 1.05)" font-size="25.5" text-anchor="middle">2010</text><text transform="translate(1268.5 1481.2) scale(1 1.041)" font-size="34.8" text-anchor="start">v1.LR-HISTORICAL</text><text transform="translate(2219.3 1476) scale(1 1.05)" font-size="28.6" text-anchor="end">trend: -9.72 x10<tspan font-size="17.3" dx="1" dy="-13.3">9</tspan><tspan dy="13.3"> kg/s 30yr</tspan><tspan font-size="17.3" dx="1" dy="-13.3">-1</tspan></text><text transform="translate(1169.1 1669.55) rotate(-90) scale(1 1.05)" font-size="25.5" text-anchor="middle">x10<tspan font-size="16" dy="-12.8">9</tspan><tspan dy="12.8"> kg/s</tspan></text></g>
</svg></body></html>
